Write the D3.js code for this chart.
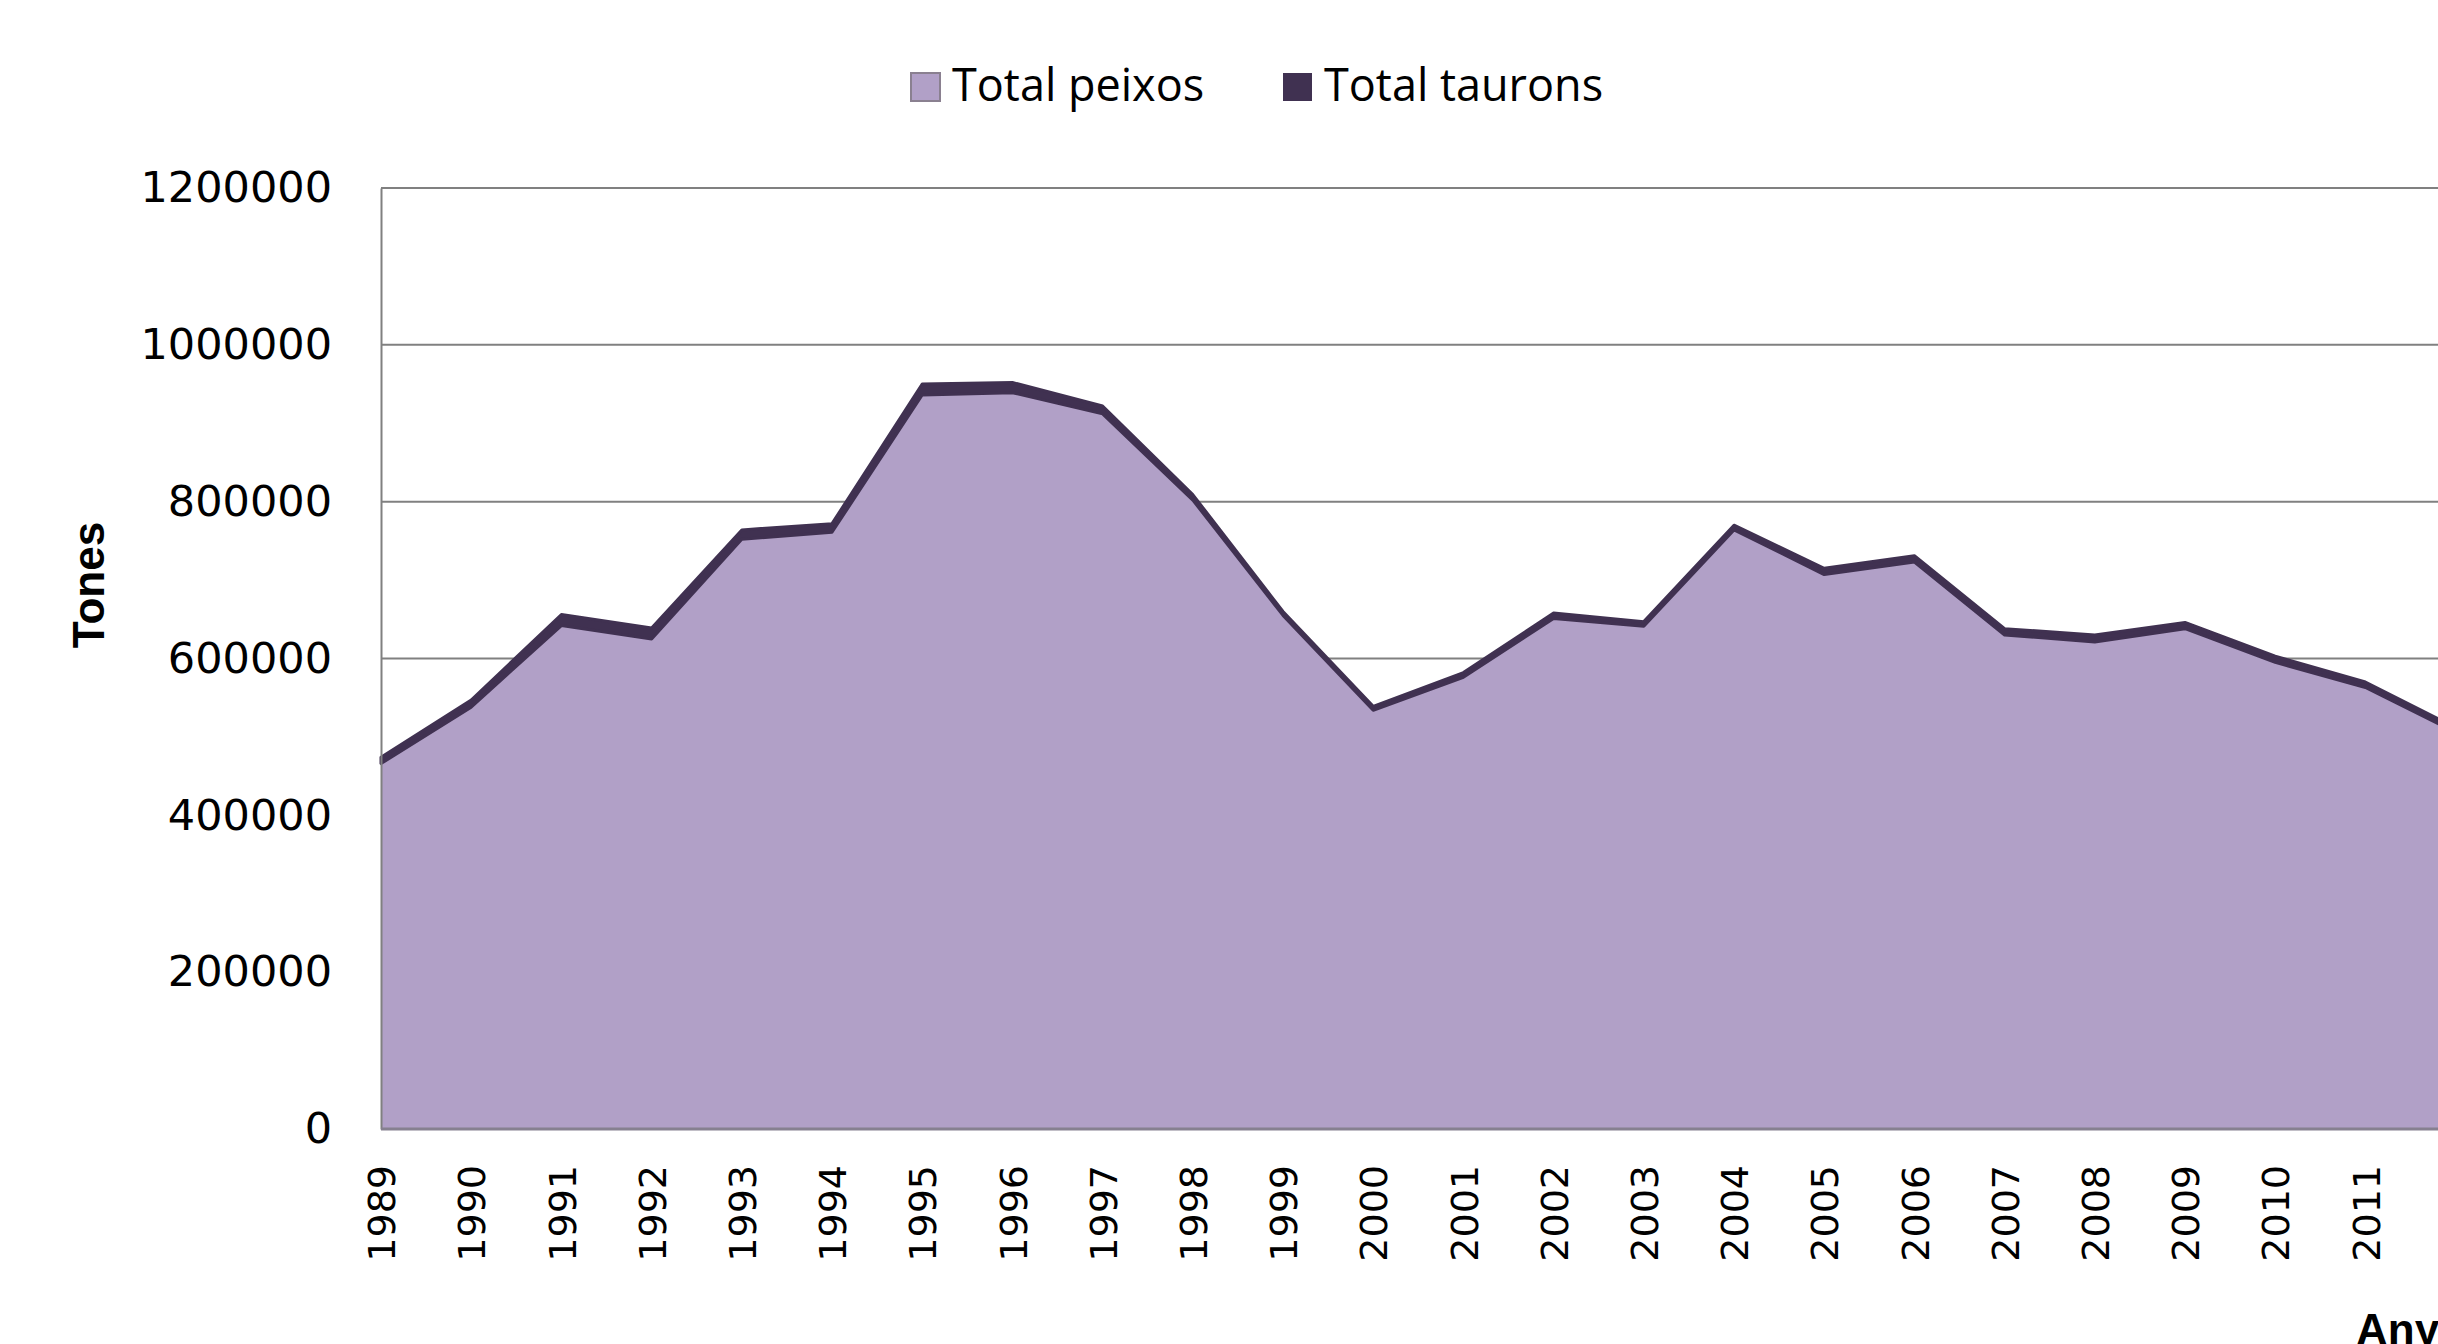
<!DOCTYPE html>
<html>
<head>
<meta charset="utf-8">
<script src="https://cdn.jsdelivr.net/npm/d3@7"></script>
<style>
  body { margin: 0; background: #fff; }
  svg { display: block; }
</style>
</head>
<body>
<div id="chart"></div>
<script>
// values in tonnes
const years = ["1989", "1990", "1991", "1992", "1993", "1994", "1995", "1996", "1997", "1998", "1999", "2000",
               "2001", "2002", "2003", "2004", "2005", "2006", "2007", "2008", "2009", "2010", "2011", "2012"];
const totalPeixos = [466000, 538000, 642000, 625000, 752000, 761000, 936000, 939000, 912000, 802000, 655000, 534000,
                     576000, 651000, 641000, 764000, 707000, 723000, 630000, 621000, 638000, 595000, 563000, 506000];
const totalTaurons = [8000, 9000, 14000, 14000, 12000, 11000, 14000, 13000, 10000, 7000, 5000, 5000,
                      6000, 7000, 6000, 6000, 8000, 8000, 8000, 9000, 8000, 8000, 7000, 6000];
const yTicks = [0, 200000, 400000, 600000, 800000, 1000000, 1200000];
const seriesNames = ["Total peixos", "Total taurons"];
const colors = ["#b1a0c7", "#403151"];

const width = 2438;
const height = 1344;
const margin = {top: 188, left: 381, bottom: 215};
const step = 90.2;

const table = years.map((yr, i) => ({
  year: yr,
  "Total peixos": totalPeixos[i],
  "Total taurons": totalTaurons[i]
}));

const svg = d3.select("#chart")
    .append("svg")
    .attr("width", width)
    .attr("height", height);

const xScale = d3.scalePoint()
    .domain(years)
    .range([margin.left, margin.left + step * (years.length - 1)]);

const yScale = d3.scaleLinear()
    .domain([0, 1200000])
    .range([height - margin.bottom, margin.top]);

const colorScale = d3.scaleOrdinal()
    .domain(seriesNames)
    .range(colors);

// grid
svg.append("g")
    .selectAll("line")
    .data(yTicks)
    .join("line")
    .attr("x1", margin.left)
    .attr("x2", width)
    .attr("y1", d => yScale(d))
    .attr("y2", d => yScale(d))
    .style("stroke", "#808080")
    .style("stroke-width", 2);

// stacked areas
const stacked = d3.stack().keys(seriesNames)(table);

const area = d3.area()
    .x(d => xScale(d.data.year))
    .y0(d => yScale(d[0]))
    .y1(d => yScale(d[1]));

svg.append("g")
    .selectAll("path")
    .data(stacked)
    .join("path")
    .attr("d", area)
    .style("fill", d => colorScale(d.key))
    .style("stroke", d => d.key === "Total taurons" ? colorScale(d.key) : "none")
    .style("stroke-width", 3)
    .style("stroke-linejoin", "round");

// y axis
const yAxis = svg.append("g")
    .attr("transform", `translate(${margin.left},0)`)
    .call(d3.axisLeft(yScale).tickValues(yTicks).tickSize(0).tickPadding(49).tickFormat(d3.format("d")));
yAxis.select(".domain").style("stroke", "#808080").style("stroke-width", 2);
yAxis.selectAll("text")
    .style("font-family", "DejaVu Sans")
    .style("font-size", "43px")
    .style("fill", "#000");

// x axis
const xAxis = svg.append("g")
    .attr("transform", `translate(0,${yScale(0)})`)
    .call(d3.axisBottom(xScale).tickSize(0).tickPadding(0));
xAxis.select(".domain")
    .attr("d", `M${margin.left},0H${width}`)
    .style("stroke", "#868090")
    .style("stroke-width", 3);
xAxis.selectAll("text")
    .attr("transform", "rotate(-90)")
    .attr("text-anchor", "end")
    .attr("x", -36)
    .attr("y", 0)
    .attr("dy", "0.36em")
    .style("font-family", "DejaVu Sans")
    .style("font-size", "38px")
    .style("fill", "#000");

// axis titles
svg.append("text")
    .attr("transform", `translate(104,585) rotate(-90)`)
    .attr("text-anchor", "middle")
    .style("font-family", "Liberation Sans")
    .style("font-weight", "bold")
    .style("font-size", "44px")
    .text("Tones");

svg.append("text")
    .attr("x", 2356)
    .attr("y", 1345)
    .style("font-family", "Liberation Sans")
    .style("font-weight", "bold")
    .style("font-size", "44px")
    .text("Anys");

// legend
const legendX = [911, 1283];
const legend = svg.append("g")
    .selectAll("g")
    .data(seriesNames)
    .join("g")
    .attr("transform", (d, i) => `translate(${legendX[i]},73)`);

legend.append("rect")
    .attr("width", 29)
    .attr("height", 28)
    .style("fill", d => colorScale(d))
    .style("stroke", (d, i) => i === 0 ? "#8a8090" : "none")
    .style("stroke-width", 2);

legend.append("text")
    .attr("x", 41)
    .attr("y", 28)
    .style("font-family", "Open Sans")
    .style("font-size", "45px")
    .style("fill", "#000")
    .text(d => d);
</script>
</body>
</html>
